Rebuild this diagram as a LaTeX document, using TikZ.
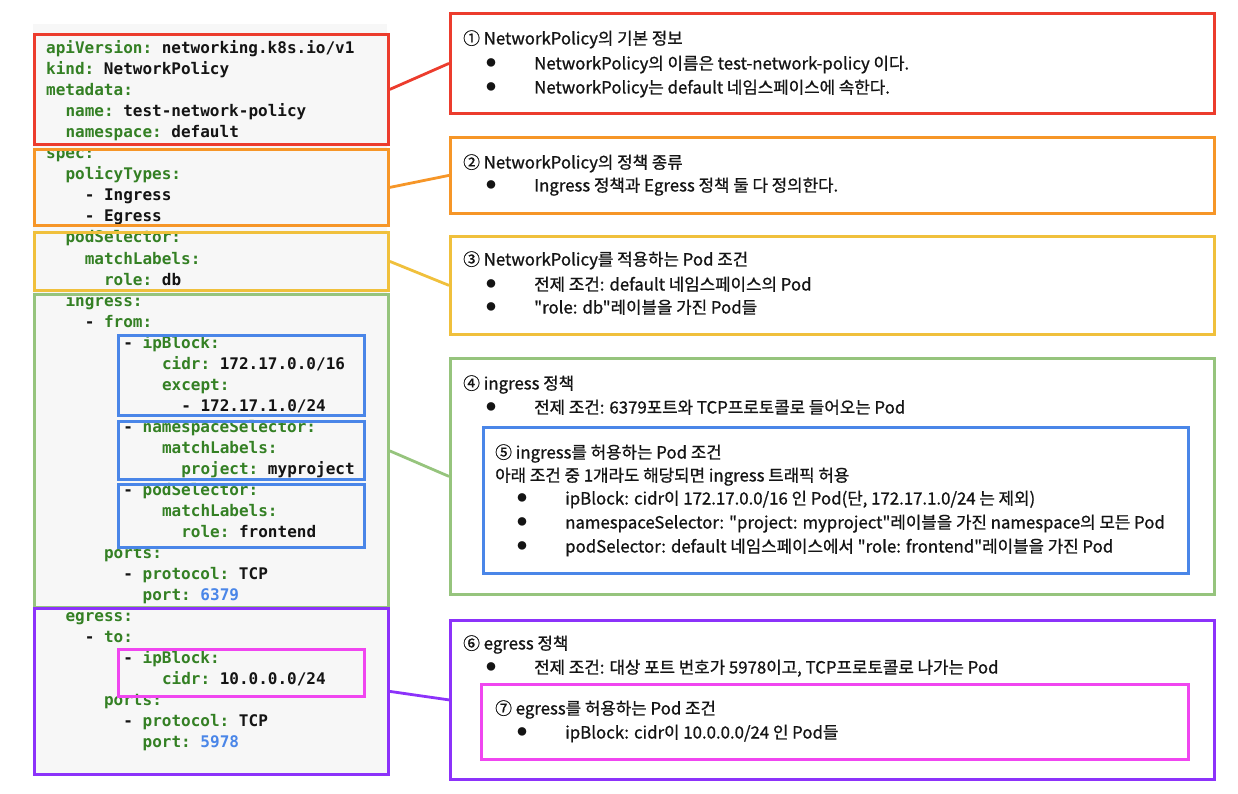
\documentclass[tikz,border=0pt]{standalone}
\usepackage{fontspec}
\newfontfamily\kr{Noto Sans CJK KR}[FakeBold=0.9]
\newfontfamily\krb{Noto Sans CJK KR}
\newfontfamily\codefont{DejaVu Sans Mono}
\definecolor{bgc}{RGB}{247,247,247}
\definecolor{keyc}{RGB}{52,128,36}
\definecolor{numc}{RGB}{74,134,232}
\definecolor{redc}{RGB}{236,60,45}
\definecolor{orangec}{RGB}{246,150,40}
\definecolor{yellowc}{RGB}{240,192,60}
\definecolor{greenc}{RGB}{150,196,125}
\definecolor{bluec}{RGB}{74,134,232}
\definecolor{purplec}{RGB}{140,50,250}
\definecolor{magc}{RGB}{240,70,240}
\definecolor{txtc}{RGB}{20,20,20}
\tikzset{
  bx/.style={draw=#1, line width=2.8pt, rectangle, inner sep=0pt, anchor=north west},
  conn/.style={draw=#1, line width=2.8pt},
  codetext/.style={anchor=base west, inner sep=0pt, text=txtc, font=\codefont\bfseries\fontsize{16}{21}\selectfont},
  krtext/.style={anchor=base west, inner sep=0pt, text=txtc, font=\kr\fontsize{16.8}{20}\selectfont},
  bul/.style={anchor=center, inner sep=0pt, text=txtc, font=\krb\fontsize{9.5}{9.5}\selectfont},
}
\newcommand\ky[1]{\textcolor{keyc}{#1}}
\newcommand\nm[1]{\textcolor{numc}{#1}}
\newcommand\ws{\hspace*{0.602em}}
% code line: name, indent (chars), line index, content
\newcommand\cl[4]{\node[codetext] (#1) at ({46+9.65*#2},{54+21*#3}) {#4};}
% right text: name, x, center y, content
\newcommand\rt[4]{\node[krtext] (#1) at (#2,{#3+6.5}) {#4};}
% bullet line: name, bullet x, text x, center y, content
\newcommand\rb[5]{\node[bul] (#1b) at (#2,#4) {●};\node[krtext] (#1) at (#3,{#4+6.5}) {#5};}
\begin{document}
\begin{tikzpicture}[x=1pt,y=-1pt]
\useasboundingbox (0,0) rectangle (1238,794);
% code background
\fill[bgc] (33,24) rectangle (387,773);
% code lines
\cl{c0}{0}{0}{\ky{apiVersion:}\ws networking.k8s.io/v1}
\cl{c1}{0}{1}{\ky{kind:}\ws NetworkPolicy}
\cl{c2}{0}{2}{\ky{metadata:}}
\cl{c3}{2}{3}{\ky{name:}\ws test-network-policy}
\cl{c4}{2}{4}{\ky{namespace:}\ws default}
\cl{c5}{0}{5}{\ky{spec:}}
\cl{c6}{2}{6}{\ky{policyTypes:}}
\cl{c7}{4}{7}{-\ws Ingress}
\cl{c8}{4}{8}{-\ws Egress}
\cl{c9}{2}{9}{\ky{podSelector:}}
\cl{c10}{4}{10}{\ky{matchLabels:}}
\cl{c11}{6}{11}{\ky{role:}\ws db}
\cl{c12}{2}{12}{\ky{ingress:}}
\cl{c13}{4}{13}{-\ws\ky{from:}}
\cl{c14}{8}{14}{-\ws\ky{ipBlock:}}
\cl{c15}{12}{15}{\ky{cidr:}\ws 172.17.0.0/16}
\cl{c16}{12}{16}{\ky{except:}}
\cl{c17}{14}{17}{-\ws 172.17.1.0/24}
\cl{c18}{8}{18}{-\ws\ky{namespaceSelector:}}
\cl{c19}{12}{19}{\ky{matchLabels:}}
\cl{c20}{14}{20}{\ky{project:}\ws myproject}
\cl{c21}{8}{21}{-\ws\ky{podSelector:}}
\cl{c22}{12}{22}{\ky{matchLabels:}}
\cl{c23}{14}{23}{\ky{role:}\ws frontend}
\cl{c24}{6}{24}{\ky{ports:}}
\cl{c25}{8}{25}{-\ws\ky{protocol:}\ws TCP}
\cl{c26}{10}{26}{\ky{port:}\ws\nm{6379}}
\cl{c27}{2}{27}{\ky{egress:}}
\cl{c28}{4}{28}{-\ws\ky{to:}}
\cl{c29}{8}{29}{-\ws\ky{ipBlock:}}
\cl{c30}{12}{30}{\ky{cidr:}\ws 10.0.0.0/24}
\cl{c31}{6}{31}{\ky{ports:}}
\cl{c32}{8}{32}{-\ws\ky{protocol:}\ws TCP}
\cl{c33}{10}{33}{\ky{port:}\ws\nm{5978}}
% code boxes
\node[bx=redc, minimum width=354pt, minimum height=110pt] (cred) at (33,33) {};
\node[bx=orangec, minimum width=354pt, minimum height=76pt] (corange) at (33,148) {};
\node[bx=yellowc, minimum width=354pt, minimum height=58pt] (cyellow) at (33,231) {};
\node[bx=greenc, minimum width=354pt, minimum height=313pt] (cgreen) at (33,293) {};
\node[bx=purplec, minimum width=354pt, minimum height=166pt] (cpurple) at (33,607) {};
\node[bx=bluec, minimum width=246pt, minimum height=80pt] (cblue1) at (117,334) {};
\node[bx=bluec, minimum width=246pt, minimum height=58pt] (cblue2) at (117,420) {};
\node[bx=bluec, minimum width=246pt, minimum height=63pt] (cblue3) at (117,483) {};
\node[bx=magc, minimum width=246pt, minimum height=47pt] (cmag) at (117,648) {};
% right boxes
\node[bx=redc, minimum width=764pt, minimum height=100pt] (ired) at (449,12) {};
\node[bx=orangec, minimum width=764pt, minimum height=76pt] (iorange) at (449,136) {};
\node[bx=yellowc, minimum width=764pt, minimum height=98pt] (iyellow) at (449,235) {};
\node[bx=greenc, minimum width=764pt, minimum height=236pt] (igreen) at (449,357) {};
\node[bx=bluec, minimum width=705pt, minimum height=146pt] (iblue) at (482,426) {};
\node[bx=purplec, minimum width=764pt, minimum height=159pt] (ipurple) at (449,619) {};
\node[bx=magc, minimum width=707pt, minimum height=75pt] (imag) at (480,683) {};
% connectors
\draw[conn=redc] (cred.east) -- (ired.west);
\draw[conn=orangec] (corange.east) -- (iorange.west);
\draw[conn=yellowc] (cyellow.east) -- (iyellow.west);
\draw[conn=greenc] (cgreen.east) -- (igreen.west);
\draw[conn=purplec] (cpurple.east) -- (ipurple.west);
% right texts
\rt{t1}{463}{38}{① NetworkPolicy의 기본 정보}
\rb{t1a}{491}{534}{63}{NetworkPolicy의 이름은 test-network-policy 이다.}
\rb{t1b}{491}{534}{87}{NetworkPolicy는 default 네임스페이스에 속한다.}
\rt{t2}{463}{162}{② NetworkPolicy의 정책 종류}
\rb{t2a}{491}{534}{185}{Ingress 정책과 Egress 정책 둘 다 정의한다.}
\rt{t3}{463}{259}{③ NetworkPolicy를 적용하는 Pod 조건}
\rb{t3a}{491}{534}{284}{전제 조건: default 네임스페이스의 Pod}
\rb{t3b}{491}{534}{307}{"role: db"레이블을 가진 Pod들}
\rt{t4}{463}{383}{④ ingress 정책}
\rb{t4a}{491}{534}{407}{전제 조건: 6379포트와 TCP프로토콜로 들어오는 Pod}
\rt{t5}{495}{452}{⑤ ingress를 허용하는 Pod 조건}
\rt{t5x}{495}{475}{아래 조건 중 1개라도 해당되면 ingress 트래픽 허용}
\rb{t5a}{522}{565}{498}{ipBlock: cidr이 172.17.0.0/16 인 Pod(단, 172.17.1.0/24 는 제외)}
\rb{t5b}{522}{565}{522}{namespaceSelector: "project: myproject"레이블을 가진 namespace의 모든 Pod}
\rb{t5c}{522}{565}{546}{podSelector: default 네임스페이스에서 "role: frontend"레이블을 가진 Pod}
\rt{t6}{463}{643}{⑥ egress 정책}
\rb{t6a}{491}{534}{667}{전제 조건: 대상 포트 번호가 5978이고, TCP프로토콜로 나가는 Pod}
\rt{t7}{495}{708}{⑦ egress를 허용하는 Pod 조건}
\rb{t7a}{522}{565}{732}{ipBlock: cidr이 10.0.0.0/24 인 Pod들}
\end{tikzpicture}
\end{document}
